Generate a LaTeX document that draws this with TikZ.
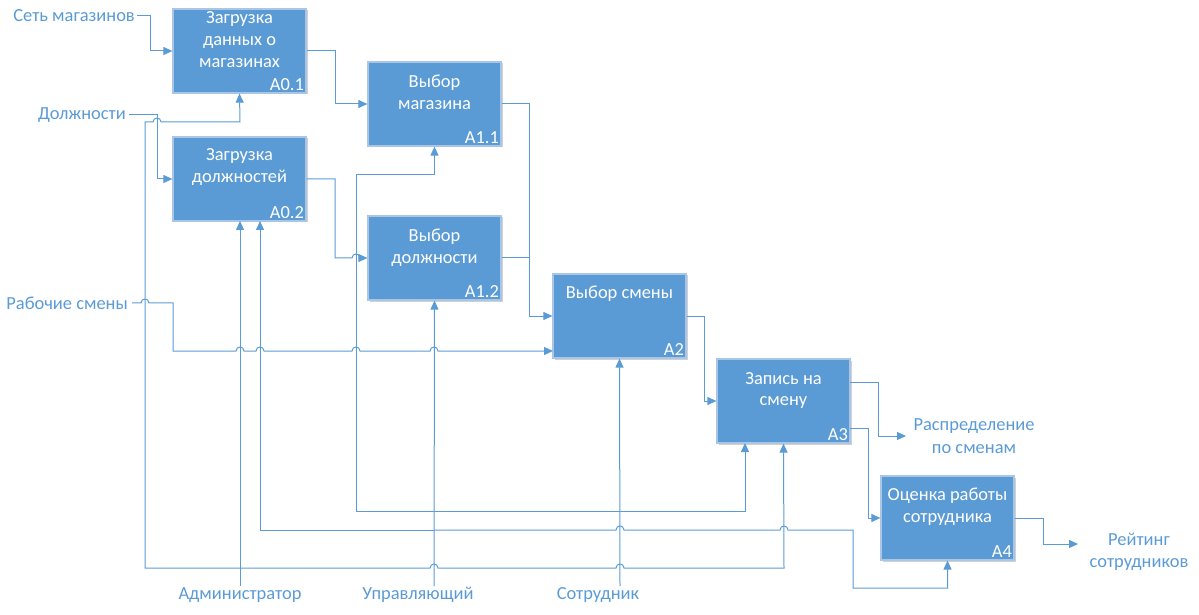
\documentclass[tikz,border=0pt]{standalone}
\usepackage{fontspec}
\setmainfont{Carlito}
\usetikzlibrary{arrows.meta,shadows}
\definecolor{idefblue}{HTML}{5B9BD5}
\definecolor{idefedge}{HTML}{A9C6E6}
\newcommand\hopat[2]{-- ({#1-4},#2) .. controls ({#1-4},{#2-5.3}) and ({#1+4},{#2-5.3}) .. ({#1+4},#2)}
\begin{document}
\begin{tikzpicture}[x=1bp,y=-1bp,
  box/.style={draw=idefedge, line width=1.2bp, fill=idefblue, minimum width=133bp, minimum height=84bp, inner sep=0pt,
    drop shadow={shadow xshift=1.5bp, shadow yshift=-1.5bp, fill=black, opacity=0.18}},
  boxtext/.style={text=white, align=center, font=\fontsize{18.5}{22}\selectfont, inner sep=0pt},
  idtext/.style={text=white, font=\fontsize{18.5}{22}\selectfont, anchor=south east, inner sep=2.5bp},
  lbl/.style={text=idefblue, align=center, font=\fontsize{18.5}{22.5}\selectfont, inner sep=0pt},
  flow/.style={draw=idefblue, line width=1bp, -{Triangle[length=9bp,width=8bp]}},
  wire/.style={draw=idefblue, line width=1bp}]
\useasboundingbox (0,0) rectangle (1199,615);

% boxes
\node[box] (A01) at (239.5,51) {};
\node[box] (A02) at (239.5,179) {};
\node[box] (A11) at (434.5,104) {};
\node[box] (A12) at (434.5,258) {};
\node[box] (A2) at (619.5,316) {};
\node[box] (A3) at (783.5,401) {};
\node[box] (A4) at (947.5,518) {};

\node[boxtext] (A01t) at (239.5,40) {Загрузка\\данных о\\магазинах};
\node[boxtext] (A02t) at (239.5,167) {Загрузка\\должностей};
\node[boxtext] (A11t) at (434.5,92.5) {Выбор\\магазина};
\node[boxtext] (A12t) at (434.5,247.5) {Выбор\\должности};
\node[boxtext] (A2t) at (619.5,294) {Выбор смены};
\node[boxtext] (A3t) at (783.5,390.5) {Запись на\\смену};
\node[boxtext] (A4t) at (947.5,507) {Оценка работы\\сотрудника};

\node[idtext] (A01i) at (A01.south east) {A0.1};
\node[idtext] (A02i) at (A02.south east) {A0.2};
\node[idtext] (A11i) at (A11.south east) {A1.1};
\node[idtext] (A12i) at (A12.south east) {A1.2};
\node[idtext] (A2i) at (A2.south east) {A2};
\node[idtext] (A3i) at (A3.south east) {A3};
\node[idtext] (A4i) at (A4.south east) {A4};

% labels
\node[lbl, anchor=east] (Lset) at (135,16) {Сеть магазинов};
\node[lbl, anchor=east] (Ldol) at (126,115) {Должности};
\node[lbl, anchor=east] (Lsm) at (128,303) {Рабочие смены};
\node[lbl] (Ladm) at (240,595) {Администратор};
\node[lbl] (Lupr) at (418,595) {Управляющий};
\node[lbl] (Lsot) at (598,595) {Сотрудник};
\node[lbl] (Lras) at (974,436) {Распределение\\по сменам};
\node[lbl] (Lrej) at (1139,552) {Рейтинг\\сотрудников};

% ports
\coordinate (A02p1) at (240,221);
\coordinate (A02p2) at (260,221);
\coordinate (A2w2) at (553,351);
\coordinate (A3p1) at (745,443);
\coordinate (A3o1) at (850,382);
\coordinate (A3o2) at (850,428);
\coordinate (admB) at (240,586);
\coordinate (uprB) at (434,586);
\coordinate (sotB) at (620,586);
\coordinate (jAdm) at (240,568);
\coordinate (j530) at (434,530);
\coordinate (j511) at (434,511);
\coordinate (rasIn) at (906,436);
\coordinate (rejIn) at (1078,544);

% inputs
\draw[flow] ([xshift=2bp]Lset.east) -- (150,16) |- (A01.west);
\draw[flow] ([xshift=3bp]Ldol.east) -- (157,115) |- (A02.west);
\draw[flow] ([xshift=4bp]Lsm.east) \hopat{145}{303} -- (173,303) -- (173,351)
  \hopat{240}{351} \hopat{260}{351} \hopat{356}{351} \hopat{434}{351} -- (A2w2);

% box to box
\draw[flow] (A01.east) -- (335,51) |- (A11.west);
\draw[flow] (A02.east) -- (335,179) -- (335,258) \hopat{356}{258} -- (A12.west);
\draw[flow] (A11.east) -- (529,104) |- (A2.west);
\draw[wire] (A12.east) -- (529,258);
\draw[flow] (A2.east) -- (704,316) |- (A3.west);
\draw[flow] (A3o1) -- (878,382) |- (rasIn);
\draw[flow] (A3o2) -- (868,428) |- (A4.west);
\draw[flow] (A4.east) -- (1043,518) |- (rejIn);

% mechanisms: Администратор
\draw[flow] (admB) -- (A02p1);
\draw[flow] (jAdm) -- (145,568) -- (145,122) \hopat{157}{122} -- (240,122) -- (A01.south);
\draw[flow] (jAdm) \hopat{434}{568} \hopat{620}{568} -- (784,568) -- (A3.south);

% Управляющий
\draw[flow] (uprB) -- (A12.south);
\draw[flow] (j530) -| (A02p2);
\draw[flow] (j530) \hopat{620}{530} \hopat{784}{530} -- (853,530) -- (853,588) -| (A4.south);
\draw[flow] (j511) -- (356,511) -- (356,175) -| (A11.south);
\draw[flow] (j511) -| (A3p1);

% Сотрудник
\draw[flow] (sotB) -- (A2.south);
\end{tikzpicture}
\end{document}
